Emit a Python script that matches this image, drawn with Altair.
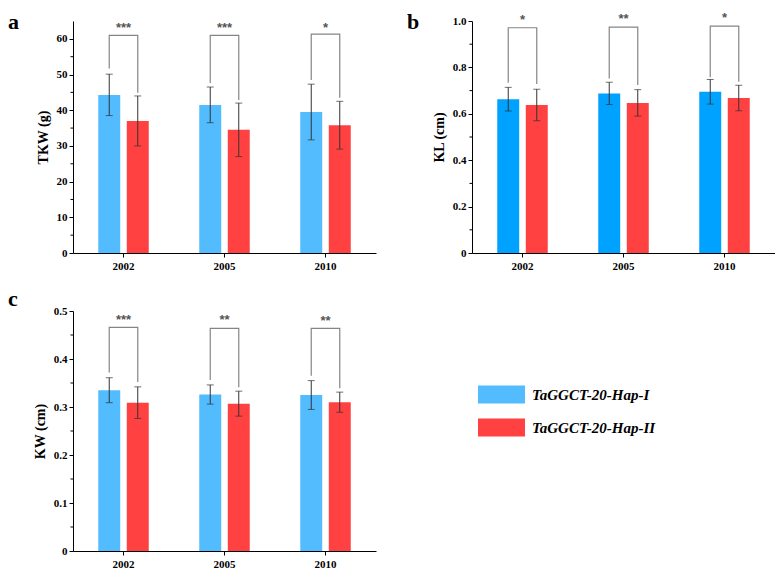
import altair as alt
import pandas as pd

years = ["2002", "2005", "2010"]
haps = ["TaGGCT-20-Hap-I", "TaGGCT-20-Hap-II"]

# Panel a: TKW (g)
tkw_hap1 = [44.3, 41.5, 39.5]
tkw_hap1_err = [5.8, 5.0, 7.8]
tkw_hap2 = [37.0, 34.5, 35.8]
tkw_hap2_err = [7.0, 7.5, 6.7]
tkw_top = [61.0, 61.0, 61.3]
tkw_leg1 = [51.7, 47.6, 48.5]
tkw_leg2 = [44.9, 42.9, 43.5]
tkw_stars = ["***", "***", "*"]
tkw_star_y = [62.9, 62.9, 63.0]

# Panel b: KL (cm)
kl_hap1 = [0.663, 0.688, 0.695]
kl_hap1_err = [0.051, 0.048, 0.053]
kl_hap2 = [0.638, 0.647, 0.668]
kl_hap2_err = [0.068, 0.057, 0.055]
kl_top = [0.971, 0.974, 0.978]
kl_leg1 = [0.734, 0.752, 0.758]
kl_leg2 = [0.728, 0.724, 0.738]
kl_stars = ["*", "**", "*"]
kl_star_y = [1.005, 1.008, 1.012]

# Panel c: KW (cm)
kw_hap1 = [0.335, 0.326, 0.325]
kw_hap1_err = [0.026, 0.020, 0.030]
kw_hap2 = [0.309, 0.307, 0.310]
kw_hap2_err = [0.033, 0.026, 0.021]
kw_top = [0.466, 0.464, 0.464]
kw_leg1 = [0.372, 0.356, 0.365]
kw_leg2 = [0.352, 0.341, 0.339]
kw_stars = ["***", "**", "**"]
kw_star_y = [0.481, 0.481, 0.479]

LIGHT_BLUE = "#52BCFE"
DEEP_BLUE = "#00A2FF"
RED = "#FF4141"
SERIF = "Liberation Serif"


def panel(m1, e1, m2, e2, top, leg1, leg2, stars, star_y, ymax, majors, minors,
          title, letter, blue, letter_y, height, fmt, legend=None):
    rows = []
    for i, yr in enumerate(years):
        rows.append({"year": yr, "hap": haps[0], "mean": m1[i], "lo": m1[i] - e1[i], "hi": m1[i] + e1[i]})
        rows.append({"year": yr, "hap": haps[1], "mean": m2[i], "lo": m2[i] - e2[i], "hi": m2[i] + e2[i]})
    bars_df = pd.DataFrame(rows)

    br = []
    for i, yr in enumerate(years):
        br.append({"year": yr, "hap": haps[0], "v": leg1[i], "o": 0})
        br.append({"year": yr, "hap": haps[0], "v": top[i], "o": 1})
        br.append({"year": yr, "hap": haps[1], "v": top[i], "o": 2})
        br.append({"year": yr, "hap": haps[1], "v": leg2[i], "o": 3})
    br_df = pd.DataFrame(br)
    st_df = pd.DataFrame({"year": years, "s": stars, "v": star_y})
    minor_df = pd.DataFrame({"v": minors})
    letter_df = pd.DataFrame({"t": [letter]})

    x = alt.X("year:N", sort=years,
              scale=alt.Scale(paddingInner=0.5, paddingOuter=0.25),
              axis=alt.Axis(title=None, labelAngle=0, labelFont=SERIF, labelFontWeight="bold",
                            labelFontSize=11, labelColor="black", tickSize=4, labelPadding=3,
                            domainColor="black", tickColor="black"))
    xo = alt.XOffset("hap:N", sort=haps, scale=alt.Scale(paddingInner=0.23, paddingOuter=0))
    ysc = alt.Scale(domain=[0, ymax], nice=False, zero=True)
    yax = alt.Axis(title=title, values=majors, labelExpr=fmt, labelOverlap=False, titleFont=SERIF,
                   titleFontWeight="bold", titleFontSize=14, titleColor="black", titlePadding=6,
                   labelFont=SERIF, labelFontWeight="bold", labelFontSize=11, labelColor="black",
                   tickSize=4, labelPadding=2, domainColor="black", tickColor="black", grid=False)

    if legend is None:
        color = alt.Color("hap:N", scale=alt.Scale(domain=haps, range=[blue, RED]), legend=None)
    else:
        color = alt.Color("hap:N", scale=alt.Scale(domain=haps, range=[blue, RED]), legend=legend)

    base = alt.Chart(bars_df)
    bars = base.mark_bar(opacity=1).encode(
        x=x, xOffset=xo, y=alt.Y("mean:Q", scale=ysc, axis=yax), color=color)
    err = base.mark_rule(color="#333333", strokeWidth=1).encode(
        x=x, xOffset=xo, y=alt.Y("lo:Q", scale=ysc, axis=yax), y2="hi:Q")
    cap_hi = base.mark_tick(color="#333333", thickness=1, size=7).encode(
        x=x, xOffset=xo, y=alt.Y("hi:Q", scale=ysc, axis=yax))
    cap_lo = base.mark_tick(color="#333333", thickness=1, size=7).encode(
        x=x, xOffset=xo, y=alt.Y("lo:Q", scale=ysc, axis=yax))
    brk = alt.Chart(br_df).mark_line(color="#858585", strokeWidth=1.2).encode(
        x=x, xOffset=xo, y=alt.Y("v:Q", scale=ysc, axis=yax), detail="year:N", order="o:Q")
    st = alt.Chart(st_df).mark_text(font="Liberation Sans", fontSize=13, fontWeight="bold",
                                    color="#555555", baseline="middle").encode(
        x=x, y=alt.Y("v:Q", scale=ysc, axis=yax), text="s:N")
    minor = alt.Chart(minor_df).mark_rule(color="black", strokeWidth=1).encode(
        y=alt.Y("v:Q", scale=ysc, axis=yax), x=alt.value(0), x2=alt.value(-2.5))
    let = alt.Chart(letter_df).mark_text(font=SERIF, fontWeight="bold", fontSize=22,
                                         color="black", align="left", baseline="alphabetic").encode(
        text="t:N", x=alt.value(-65), y=alt.value(letter_y))
    return alt.layer(bars, err, cap_hi, cap_lo, brk, st, minor, let).properties(width=303, height=height)


fmt1 = "format(datum.value, 'd')"
fmt2 = "datum.value == 0 ? '0' : format(datum.value, '.1f')"

legend = alt.Legend(orient="none", legendX=405, legendY=60, title=None,
                    symbolType="M-1,-0.383L1,-0.383L1,0.383L-1,0.383Z", symbolSize=2209,
                    symbolStrokeWidth=0, symbolOpacity=1, labelFont=SERIF, labelFontStyle="italic",
                    labelFontWeight="bold", labelFontSize=15, labelColor="black",
                    rowPadding=-14, labelOffset=7, labelLimit=300)

pa = panel(tkw_hap1, tkw_hap1_err, tkw_hap2, tkw_hap2_err, tkw_top, tkw_leg1, tkw_leg2,
           tkw_stars, tkw_star_y, 65, [0, 10, 20, 30, 40, 50, 60], [5, 15, 25, 35, 45, 55],
           "TKW (g)", "a", LIGHT_BLUE, 8, 232, fmt1)
pb = panel(kl_hap1, kl_hap1_err, kl_hap2, kl_hap2_err, kl_top, kl_leg1, kl_leg2,
           kl_stars, kl_star_y, 1.0, [0, 0.2, 0.4, 0.6, 0.8, 1.0], [0.1, 0.3, 0.5, 0.7, 0.9],
           "KL (cm)", "b", DEEP_BLUE, 8, 232, fmt2)
pc = panel(kw_hap1, kw_hap1_err, kw_hap2, kw_hap2_err, kw_top, kw_leg1, kw_leg2,
           kw_stars, kw_star_y, 0.5, [0, 0.1, 0.2, 0.3, 0.4, 0.5],
           [0.05, 0.15, 0.25, 0.35, 0.45], "KW (cm)", "c", LIGHT_BLUE, -5, 240, fmt2, legend=legend)

row1 = alt.hconcat(pa, pb, spacing=31).resolve_scale(color="independent")
row2 = alt.hconcat(pc, spacing=10)
chart = alt.vconcat(row1, row2, spacing=17).resolve_scale(color="independent").properties(
    padding={"top": 3, "left": 0, "right": 0, "bottom": 0}
).configure_view(strokeWidth=0).configure_axis(domainWidth=1, tickWidth=1)

chart.save("out.html", embed_options={"renderer": "svg", "actions": False})
